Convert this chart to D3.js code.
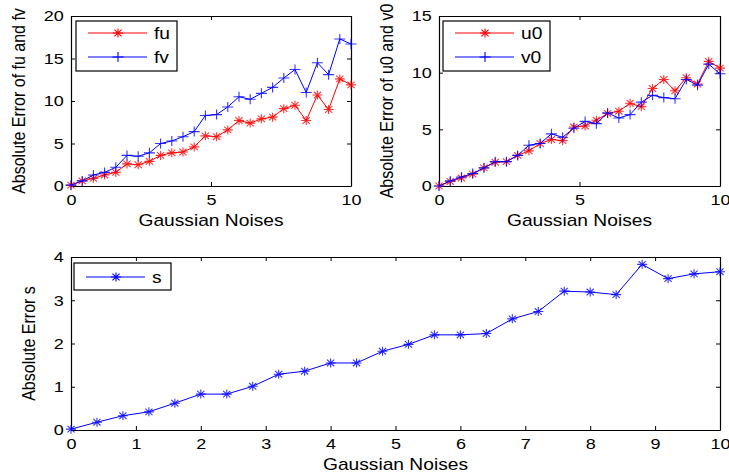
<!DOCTYPE html>
<html>
<head>
<meta charset="utf-8">
<script src="https://cdn.jsdelivr.net/npm/d3@7/dist/d3.min.js"></script>
<style>
  body { margin: 0; background: #fff; }
  svg { display: block; }
  text { font-family: "Liberation Sans", Arial, sans-serif; fill: #000; }
</style>
</head>
<body>
<div id="chart"></div>
<script>
// gaussian noise levels (x) shared by every panel
var noise = [0, 0.4, 0.8, 1.2, 1.6, 2.0, 2.4, 2.8, 3.2, 3.6, 4.0, 4.4, 4.8,
             5.2, 5.6, 6.0, 6.4, 6.8, 7.2, 7.6, 8.0, 8.4, 8.8, 9.2, 9.6, 10];

var fu = [0.1, 0.6, 0.9, 1.3, 1.6, 2.6, 2.5, 2.9, 3.6, 3.9, 4.0, 4.6, 5.9,
          5.8, 6.6, 7.7, 7.4, 7.9, 8.1, 9.1, 9.5, 7.7, 10.7, 9.0, 12.6, 11.9];
var fv = [0.1, 0.6, 1.3, 1.6, 2.2, 3.6, 3.5, 3.9, 5.0, 5.3, 5.8, 6.4, 8.3,
          8.4, 9.3, 10.5, 10.2, 10.9, 11.6, 12.7, 13.7, 11.0, 14.5, 13.1, 17.3, 16.7];

var u0 = [0, 0.4, 0.7, 1.05, 1.6, 2.1, 2.15, 2.7, 3.1, 3.75, 4.1, 4.0, 5.2,
          5.3, 5.8, 6.4, 6.6, 7.3, 7.0, 8.6, 9.4, 8.4, 9.55, 9.0, 11.0, 10.4];
var v0 = [0, 0.45, 0.8, 1.1, 1.6, 2.15, 2.15, 2.7, 3.6, 3.75, 4.6, 4.3, 5.1,
          5.7, 5.5, 6.45, 6.0, 6.3, 7.4, 8.0, 7.8, 7.7, 9.4, 8.9, 10.75, 9.9];

var s = [0.02, 0.18, 0.33, 0.42, 0.62, 0.83, 0.83, 1.01, 1.29, 1.36, 1.55, 1.55, 1.82,
         1.98, 2.2, 2.2, 2.23, 2.57, 2.74, 3.21, 3.19, 3.13, 3.83, 3.5, 3.61, 3.66];

var xTicksTop = [0, 5, 10];
var xTicksBottom = [0, 1, 2, 3, 4, 5, 6, 7, 8, 9, 10];

var W = 729, H = 475;
var SX = 1.2;   // the picture is a bit stretched sideways

var svg = d3.select('#chart').append('svg')
  .attr('width', W)
  .attr('height', H);

var markers = {
  star: 'M-5,0H5M0,-4.5V4.5M-3.6,-3.3L3.6,3.3M-3.6,3.3L3.6,-3.3',
  plus: 'M-5.5,0H5.5M0,-5V5'
};

function stretch(sel) {
  sel.each(function() {
    var t = d3.select(this);
    var old = t.attr('transform') || '';
    t.attr('transform', old + ' scale(' + SX + ',1)');
  });
}

function panel(p) {
  var x = d3.scaleLinear().domain([0, 10]).range([p.left, p.right]);
  var y = d3.scaleLinear().domain(p.ydom).range([p.bottom, p.top]);

  var g = svg.append('g');

  // box with inward ticks on all four sides
  var axB = g.append('g')
    .attr('transform', 'translate(0,' + p.bottom + ')')
    .call(d3.axisBottom(x).tickValues(p.xticks).tickFormat(d3.format('d'))
      .tickSizeInner(-4).tickSizeOuter(0).tickPadding(8));
  var axT = g.append('g')
    .attr('transform', 'translate(0,' + p.top + ')')
    .call(d3.axisTop(x).tickValues(p.xticks).tickFormat('')
      .tickSizeInner(-4).tickSizeOuter(0));
  var axL = g.append('g')
    .attr('transform', 'translate(' + p.left + ',0)')
    .call(d3.axisLeft(y).tickValues(p.yticks).tickFormat(d3.format('d'))
      .tickSizeInner(-4).tickSizeOuter(0).tickPadding(6));
  var axR = g.append('g')
    .attr('transform', 'translate(' + p.right + ',0)')
    .call(d3.axisRight(y).tickValues(p.yticks).tickFormat('')
      .tickSizeInner(-4).tickSizeOuter(0));

  [axB, axT, axL, axR].forEach(function(a) {
    a.select('.domain').attr('stroke', '#000').attr('stroke-width', 1.2);
    a.selectAll('line').attr('stroke', '#000');
    a.selectAll('text').attr('font-size', 15).attr('font-family', null);
  });
  stretch(axB.selectAll('text'));
  stretch(axL.selectAll('text'));

  // series
  var line = d3.line()
    .x(function(d, i) { return x(noise[i]); })
    .y(function(d) { return y(d); });

  p.series.forEach(function(sr) {
    g.append('path')
      .datum(sr.values)
      .attr('fill', 'none')
      .attr('stroke', sr.color)
      .attr('stroke-width', 1)
      .attr('d', line);
    g.selectAll(null)
      .data(sr.values)
      .enter().append('path')
      .attr('transform', function(d, i) { return 'translate(' + x(noise[i]) + ',' + y(d) + ')'; })
      .attr('d', markers[sr.marker])
      .attr('fill', 'none')
      .attr('stroke', sr.color)
      .attr('stroke-opacity', 0.8)
      .attr('stroke-width', 1.1);
  });

  // legend
  var lg = g.append('g');
  lg.append('rect')
    .attr('x', p.legend.x).attr('y', p.legend.y)
    .attr('width', p.legend.w).attr('height', p.legend.h)
    .attr('fill', '#fff').attr('stroke', '#000').attr('stroke-width', 1.2);
  p.series.forEach(function(sr, i) {
    var ly = p.legend.y + p.legend.row0 + i * 24;
    var lx = p.legend.x + 12;
    lg.append('line')
      .attr('x1', lx).attr('x2', lx + 59)
      .attr('y1', ly).attr('y2', ly)
      .attr('stroke', sr.color).attr('stroke-width', 1);
    lg.append('path')
      .attr('transform', 'translate(' + (lx + 30) + ',' + ly + ')')
      .attr('d', markers[sr.marker])
      .attr('fill', 'none').attr('stroke', sr.color).attr('stroke-width', 1.1);
    lg.append('text')
      .attr('transform', 'translate(' + (lx + 66) + ',' + (ly + 6) + ') scale(' + SX + ',1)')
      .attr('font-size', 16)
      .text(sr.name);
  });

  // axis labels
  g.append('text')
    .attr('transform', 'translate(' + ((p.left + p.right) / 2) + ',' + (p.bottom + 40) + ') scale(' + SX + ',1)')
    .attr('text-anchor', 'middle')
    .attr('font-size', 16)
    .text('Gaussian Noises');
  g.append('text')
    .attr('transform', 'translate(' + p.ylabelX + ',' + ((p.top + p.bottom) / 2) + ') scale(' + SX + ',1) rotate(-90)')
    .attr('text-anchor', 'middle')
    .attr('font-size', 16)
    .text(p.ylabel);
}

panel({
  left: 71, right: 351, top: 16, bottom: 186,
  ydom: [0, 20], yticks: [0, 5, 10, 15, 20], xticks: xTicksTop,
  ylabel: 'Absolute Error of fu and fv', ylabelX: 25,
  legend: { x: 76, y: 21, w: 101, h: 50, row0: 12 },
  series: [
    { name: 'fu', values: fu, color: '#ff0000', marker: 'star' },
    { name: 'fv', values: fv, color: '#0000ff', marker: 'plus' }
  ]
});

panel({
  left: 439, right: 720, top: 16, bottom: 186,
  ydom: [0, 15], yticks: [0, 5, 10, 15], xticks: xTicksTop,
  ylabel: 'Absolute Error of u0 and v0', ylabelX: 393,
  legend: { x: 443, y: 21, w: 107, h: 50, row0: 12 },
  series: [
    { name: 'u0', values: u0, color: '#ff0000', marker: 'star' },
    { name: 'v0', values: v0, color: '#0000ff', marker: 'plus' }
  ]
});

panel({
  left: 71, right: 720, top: 257, bottom: 430,
  ydom: [0, 4], yticks: [0, 1, 2, 3, 4], xticks: xTicksBottom,
  ylabel: 'Absolute Error s', ylabelX: 35,
  legend: { x: 74, y: 263, w: 97, h: 27, row0: 14 },
  series: [
    { name: 's', values: s, color: '#0000ff', marker: 'star' }
  ]
});
</script>
</body>
</html>
